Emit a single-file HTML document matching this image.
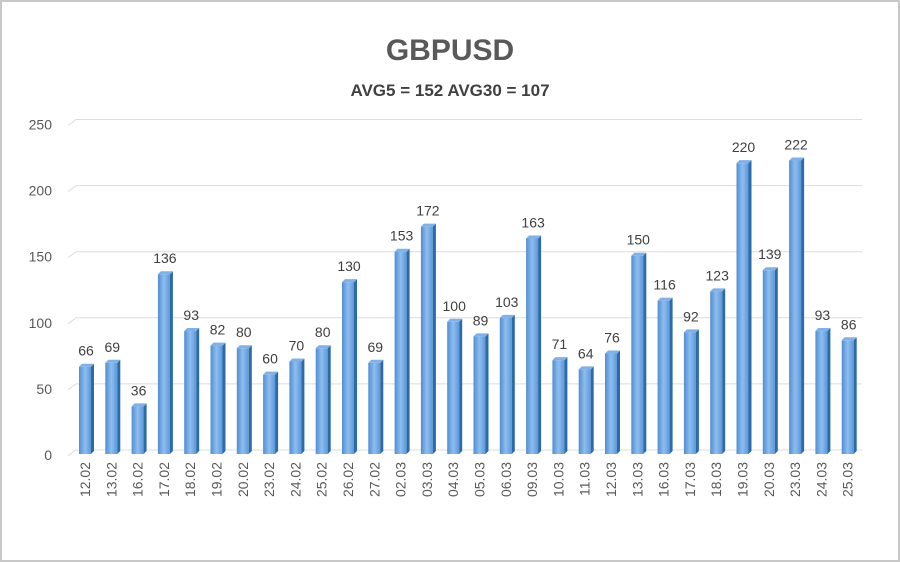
<!DOCTYPE html>
<html><head><meta charset="utf-8"><style>
body{margin:0;background:#fff}
svg{display:block;font-family:"Liberation Sans",sans-serif}
</style></head><body>
<svg id="c" width="900" height="562">
<defs>
<linearGradient id="g" x1="0" x2="1"><stop offset="0" stop-color="#4f8ed3"/><stop offset="0.5" stop-color="#8fbdee"/><stop offset="1" stop-color="#5b98da"/></linearGradient>
</defs>
<rect x="1" y="1" width="898" height="560" fill="#fff" stroke="#c8c8c8" stroke-width="2"/>
<text x="450" y="60" text-anchor="middle" font-size="30" font-weight="bold" fill="#595959">GBPUSD</text>
<text x="450" y="96" text-anchor="middle" font-size="17" font-weight="bold" fill="#404040">AVG5 = 152 AVG30 = 107</text>
<g id="grid"></g><g id="bars"></g><g id="labels"></g>
</svg>
<script>
const categories=["12.02","13.02","16.02","17.02","18.02","19.02","20.02","23.02","24.02","25.02","26.02","27.02","02.03","03.03","04.03","05.03","06.03","09.03","10.03","11.03","12.03","13.03","16.03","17.03","18.03","19.03","20.03","23.03","24.03","25.03"];
const values=[66,69,36,136,93,82,80,60,70,80,130,69,153,172,100,89,103,163,71,64,76,150,116,92,123,220,139,222,93,86];
const ticks=[0,50,100,150,200,250];
const NS="http://www.w3.org/2000/svg";
const y0=454,ppu=1.322,x0=85,step=26.3,bw=12;
const Y=v=>y0-v*ppu, X=i=>x0+i*step;
function mk(t,a,p){const e=document.createElementNS(NS,t);for(const k in a)e.setAttribute(k,a[k]);p.appendChild(e);return e;}
const grid=document.getElementById('grid'),bars=document.getElementById('bars'),labels=document.getElementById('labels');
ticks.forEach(t=>{
 const l=mk('polyline',{points:`68,${Y(t)+2} 76,${Y(t)-4} 862,${Y(t)-4}`,fill:'none',stroke:'#dcdcdc','stroke-width':1},grid);
 
 
 const tx=mk('text',{x:52,y:Y(t)+6,'text-anchor':'end','font-size':14,fill:'#595959'},grid);
 tx.textContent=t;
 
 
});
values.forEach((v,i)=>{
 const x=X(i)-bw/2,y=Y(v);
 const g=mk('g',{},bars);
 
 
 mk('rect',{x:x,y:y,width:bw,height:y0-y,fill:'url(#g)'},g);
 mk('polygon',{points:`${x+bw},${y} ${x+bw+3},${y-3} ${x+bw+3},${y0-3} ${x+bw},${y0}`,fill:'#2d6aa8'},g);
 mk('polygon',{points:`${x},${y} ${x+3},${y-3} ${x+bw+3},${y-3} ${x+bw},${y}`,fill:'#7fb0e6'},g);
 const t=mk('text',{x:X(i)+1,y:y-11,'text-anchor':'middle','font-size':14,fill:'#404040'},labels);
 t.textContent=v;
 
 
 const c=mk('text',{x:0,y:0,'text-anchor':'end','font-size':14,fill:'#595959',transform:`translate(${X(i)+5},462) rotate(-90)`},labels);
 c.textContent=categories[i];
 
 
});
</script>
</body></html>
